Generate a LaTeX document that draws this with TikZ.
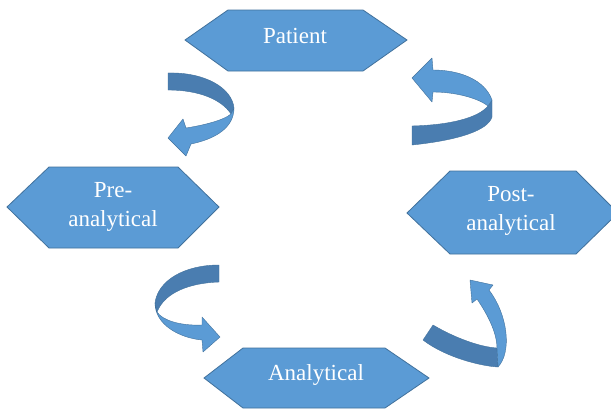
\documentclass[tikz,border=0pt]{standalone}
\usepackage{fontspec}
\setmainfont{Liberation Serif}
\definecolor{hexfill}{HTML}{5B9BD5}
\definecolor{hexline}{HTML}{41719C}
\definecolor{arrdark}{HTML}{4A7DB0}
\begin{document}
\begin{tikzpicture}[x=1pt,y=-1pt,
 hexshape/.style={fill=hexfill, draw=hexline, line width=0.8pt, line join=miter},
 lbl/.style={text=white, font=\fontsize{23}{29}\selectfont, inner sep=0pt, align=center},
 front/.style={fill=hexfill, draw=hexline, line width=0.4pt, line join=round},
 back/.style={fill=arrdark, draw=hexline, line width=0.4pt, line join=round}]
\clip (0,0) rectangle (611,410);
\fill[white] (0,0) rectangle (611,410);
% hexagons
\draw[hexshape] (185,40) -- (228,10) -- (363,10) -- (407,40) -- (363,71) -- (228,71) -- cycle;
\draw[hexshape] (7,207) -- (49,167) -- (178,167) -- (219,207) -- (178,248) -- (49,248) -- cycle;
\draw[hexshape] (407,213) -- (450,171) -- (576,171) -- (618,213) -- (576,254) -- (450,254) -- cycle;
\draw[hexshape] (204,378) -- (243,348) -- (385,348) -- (429,378) -- (385,408) -- (243,408) -- cycle;
\node[lbl, anchor=base] (patient) at (295,43) {Patient};
\node[lbl] (pre) at (113,207) {Pre-\\analytical};
\node[lbl] (post) at (511,211) {Post-\\analytical};
\node[lbl, anchor=base] (analytical) at (316,380) {Analytical};
% arrow 1 (Patient -> Pre-analytical)
\draw[back] (168,73) .. controls (205,72) and (232,88) .. (234,108) -- (231,114) .. controls (222,100) and (200,90) .. (168,90) -- cycle;
\draw[front] (234,108) .. controls (234,128) and (215,139) .. (191,144) -- (186,156) -- (168,138) -- (183,119) -- (186,128) .. controls (205,125) and (224,120) .. (231,114) -- cycle;
% arrow 2 (Post-analytical -> Patient)
\draw[back] (492,100) -- (492,117) .. controls (488,130) and (460,140) .. (412,145) -- (412,126) .. controls (450,125) and (478,118) .. (488,106) -- cycle;
\draw[front] (412,78) -- (432,58) -- (433,70) .. controls (460,70) and (485,80) .. (492,100) -- (488,106) .. controls (478,98) and (455,92) .. (433,92) -- (432,102) -- cycle;
% arrow 3 (Pre-analytical -> Analytical)
\draw[back] (219,265) .. controls (185,265) and (158,280) .. (155,303) -- (157,312) .. controls (165,292) and (190,283) .. (219,282) -- cycle;
\draw[front] (155,303) .. controls (155,325) and (180,338) .. (202,340) -- (203,352) -- (220,337) -- (202,317) -- (202,325) .. controls (180,326) and (162,320) .. (157,312) -- cycle;
% arrow 4 (Analytical -> Post-analytical)
\draw[back] (423,340) -- (433,325) .. controls (455,338) and (480,347) .. (497,348) -- (498,367) .. controls (480,366) and (445,357) .. (423,340) -- cycle;
\draw[front] (498,367) .. controls (512,352) and (508,315) .. (489,290) -- (493,285) -- (470,280) -- (472,303) -- (477,299) .. controls (490,318) and (497,335) .. (497,348) -- cycle;
\end{tikzpicture}
\end{document}
